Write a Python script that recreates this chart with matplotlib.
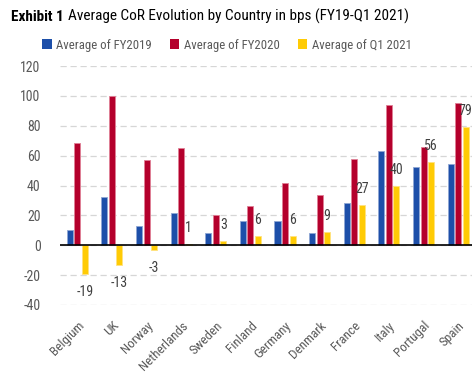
import matplotlib
matplotlib.use("Agg")
import matplotlib.pyplot as plt
from matplotlib.patches import Patch
import numpy as np

countries = ["Belgium", "UK", "Norway", "Netherlands", "Sweden", "Finland",
             "Germany", "Denmark", "France", "Italy", "Portugal", "Spain"]
fy2019 = [10, 32.5, 13, 21.5, 8.5, 16.5, 16.5, 8, 28.5, 63, 52.5, 54.5]
fy2020 = [68.5, 100, 57, 65, 20, 26.5, 41.5, 33.5, 58, 94, 65.5, 95]
q1_2021 = [-19, -13, -3, 1, 3, 6, 6, 9, 27, 40, 56, 79]
series_names = ["Average of FY2019", "Average of FY2020", "Average of Q1 2021"]
yticks = [-40, -20, 0, 20, 40, 60, 80, 100, 120]

colors = ["#1d4fa9", "#b4002c", "#ffcb05"]
edges = ["#8fa6d4", "#e07f95", "#ffe27f"]
FONT = ["Liberation Sans Narrow", "Roboto Condensed", "DejaVu Sans"]
plt.rcParams["font.family"] = FONT

W, H = 472, 374
fig = plt.figure(figsize=(W / 100, H / 100), dpi=100)
ax = fig.add_axes([60 / W, (H - 305) / H, 1 - 60 / W, (305 - 66) / H])

x = np.arange(len(countries))
bw = 0.175
stride = 0.217
for i, (vals, c, ec) in enumerate(zip([fy2019, fy2020, q1_2021], colors, edges)):
    ax.bar(x + (i - 1) * stride, vals, width=bw, color=c, edgecolor=ec,
           linewidth=0.6, zorder=3)

for xi, v in zip(x, q1_2021):
    off = 11.5 if v >= 0 else -13
    ax.annotate(f"{v:g}", (xi + stride, v), xytext=(0, off),
                textcoords="offset points", ha="center", va="center",
                fontsize=10, color="#404040", zorder=4,
                annotation_clip=True, clip_on=True)

ax.set_xlim(-0.5, 11.4)
ax.set_ylim(-40, 120)
ax.set_yticks(yticks)
ax.set_yticklabels([str(t) for t in yticks])
ax.yaxis.grid(True, linestyle=(0, (5, 3)), color="#d6d6d6", linewidth=0.9, zorder=0)
ax.axhline(0, color="black", linewidth=1.2, zorder=5)
for s in ax.spines.values():
    s.set_visible(False)
ax.tick_params(axis="y", length=0, pad=14, labelsize=10, labelcolor="#595959")
ax.set_xticks(x)
ax.set_xticklabels(countries, rotation=45, ha="right", rotation_mode="anchor",
                   fontsize=9.5, color="#595959")
ax.tick_params(axis="x", length=0, pad=10)

# title
renderer = fig.canvas.get_renderer()
t1 = fig.text(11 / W, 1 - 21 / H, "Exhibit 1", fontsize=11, fontweight="bold",
              color="black", va="baseline", ha="left")
bb = t1.get_window_extent(renderer=renderer)
fig.text((bb.x1 + 4) / W, 1 - 21 / H, "Average CoR Evolution by Country in bps (FY19-Q1 2021)",
         fontsize=11, color="black", va="baseline", ha="left")

handles = [Patch(facecolor=c, edgecolor="none") for c in colors]
fig.legend(handles, series_names, loc="center left", bbox_to_anchor=(37 / W, 1 - 45 / H),
           ncol=3, frameon=False, fontsize=9.2, handlelength=0.75, handleheight=0.75,
           handletextpad=0.35, columnspacing=1.4, labelcolor="#595959", borderaxespad=0)

fig.savefig("out.png", dpi=100)
